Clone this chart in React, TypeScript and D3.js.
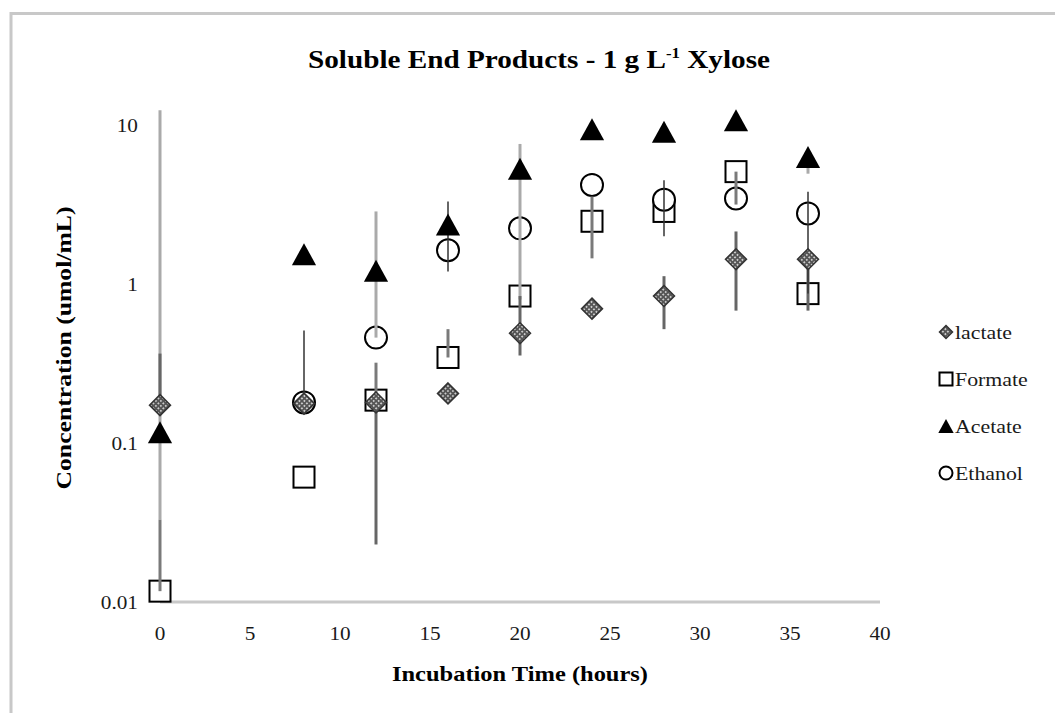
import * as d3 from "d3";

const W = 1055;
const H = 713;

const times = [0, 8, 12, 16, 20, 24, 28, 32, 36];

// concentrations (umol/mL); null = not plotted
const lactate = [0.173, 0.177, 0.18, 0.205, 0.49, 0.7, 0.84, 1.43, 1.43];
const formate = [0.0117, 0.061, 0.186, 0.345, 0.84, 2.48, 2.86, 5.09, 0.87];
const acetate = [0.117, 1.54, 1.21, 2.37, 5.3, 9.4, 9.06, 10.7, 6.3];
const ethanol = [null, 0.18, 0.46, 1.63, 2.24, 4.2, 3.39, 3.45, 2.78];

// error bar ends [low, high]; null = no bar
const lactateErr = [[0.173, 0.365], null, [0.023, 0.18], null, [0.355, 0.84], null, [0.52, 1.12], [0.68, 2.14], [0.68, 1.43]];
const formateErr = [[0.0117, 0.033], null, [0.186, 0.32], [0.345, 0.52], null, [1.45, 3.55], null, [3.16, 5.09], null];
const acetateErr = [[0.033, 12.4], null, [0.46, 2.86], null, [0.8, 7.6], null, null, null, [4.94, 6.3]];
const ethanolErr = [null, [0.18, 0.51], null, [1.2, 3.3], null, null, [2.0, 4.5], null, [0.87, 3.81]];

const yTicks = [0.01, 0.1, 1, 10];
const xTicks = [0, 5, 10, 15, 20, 25, 30, 35, 40];
const legendNames = ["lactate", "Formate", "Acetate", "Ethanol"];

const FONT = "'Liberation Serif', 'Times New Roman', serif";

const x = d3.scaleLinear().domain([0, 40]).range([160, 880]);
const y = d3.scaleLog().domain([0.01, 10]).range([602, 125]);

type Shape = "diamond" | "square" | "triangle" | "circle";

function Marker({ shape, cx, cy, s }: { shape: Shape; cx: number; cy: number; s: number }) {
  if (shape === "diamond") {
    const h = s / 2;
    return (
      <path
        d={`M${cx},${cy - h}L${cx + h},${cy}L${cx},${cy + h}L${cx - h},${cy}Z`}
        fill="url(#dots)"
        stroke="#333"
        strokeWidth={1.5}
      />
    );
  }
  if (shape === "square") {
    return <rect x={cx - s / 2} y={cy - s / 2} width={s} height={s} fill="#fff" stroke="#000" strokeWidth={2} />;
  }
  if (shape === "triangle") {
    const h = s / 2;
    return <path d={`M${cx},${cy - h}L${cx + h * 1.1},${cy + h}L${cx - h * 1.1},${cy + h}Z`} fill="#000" />;
  }
  return <circle cx={cx} cy={cy} r={s / 2} fill="#fff" stroke="#000" strokeWidth={2} />;
}

const series = [
  { name: "lactate", values: lactate, err: lactateErr, shape: "diamond" as Shape, barColor: "#666", barWidth: 3 },
  { name: "Formate", values: formate, err: formateErr, shape: "square" as Shape, barColor: "#7a7a7a", barWidth: 3 },
  { name: "Acetate", values: acetate, err: acetateErr, shape: "triangle" as Shape, barColor: "#aaa", barWidth: 3 },
  { name: "Ethanol", values: ethanol, err: ethanolErr, shape: "circle" as Shape, barColor: "#333", barWidth: 1.5 },
];

// light bars first so darker ones sit on top
const barOrder = ["Acetate", "Formate", "lactate", "Ethanol"];

const markerSize: Record<Shape, number> = { diamond: 21, square: 21, triangle: 22, circle: 22 };

export default function App() {
  const points = (shapes: Shape[]) =>
    series
      .filter((s) => shapes.includes(s.shape))
      .map((s) =>
        s.values.map((v, i) =>
          v == null ? null : (
            <Marker key={s.name + i} shape={s.shape} cx={x(times[i])} cy={y(v)} s={markerSize[s.shape]} />
          )
        )
      );

  const bars = barOrder.map((n) => series.find((s) => s.name === n)!);

  return (
    <svg width={W} height={H} style={{ position: "absolute", left: 0, top: 0, background: "#fff" }} fontFamily={FONT}>
      <defs>
        <pattern id="dots" width={3.5} height={3.5} patternUnits="userSpaceOnUse" patternTransform="rotate(45)">
          <rect width={3.5} height={3.5} fill="#555" />
          <circle cx={1.75} cy={1.75} r={0.8} fill="#fff" />
        </pattern>
      </defs>
      <rect width={W} height={H} fill="#fff" />
      {/* frame */}
      <line x1={10} y1={13.5} x2={W} y2={13.5} stroke="#c8c8c8" strokeWidth={3} />
      <line x1={11} y1={12} x2={11} y2={H} stroke="#c8c8c8" strokeWidth={3} />

      <text x={539} y={68} textAnchor="middle" fontSize={26} fontWeight="bold" textLength={462} lengthAdjust="spacingAndGlyphs">
        Soluble End Products - 1 g L
        <tspan fontSize={15} dy={-10}>-1</tspan>
        <tspan dy={10}> Xylose</tspan>
      </text>

      {/* x axis */}
      <line x1={x(0)} x2={x(40)} y1={y(0.01)} y2={y(0.01)} stroke="#c8c8c8" strokeWidth={3} />
      {xTicks.map((t) => (
        <text
          key={t}
          transform={`translate(${x(t)},${640}) scale(1.15,1)`}
          textAnchor="middle"
          fontSize={18.5}
          fill="#1a1a1a"
        >
          {t}
        </text>
      ))}
      {yTicks.map((t) => (
        <text
          key={t}
          transform={`translate(138,${y(t) + 6.5}) scale(1.15,1)`}
          textAnchor="end"
          fontSize={18.5}
          fill="#1a1a1a"
        >
          {t}
        </text>
      ))}

      <text x={520} y={681} textAnchor="middle" fontSize={22} fontWeight="bold" textLength={256} lengthAdjust="spacingAndGlyphs">
        Incubation Time (hours)
      </text>
      <text
        transform={`translate(71,348) rotate(-90)`}
        textAnchor="middle"
        fontSize={22}
        fontWeight="bold"
        textLength={283}
        lengthAdjust="spacingAndGlyphs"
      >
        Concentration (umol/mL)
      </text>

      {/* open markers under the error bars */}
      {points(["square", "circle"])}
      {bars.map((s) =>
        s.err.map((e, i) =>
          e == null ? null : (
            <line
              key={s.name + "e" + i}
              x1={x(times[i])}
              x2={x(times[i])}
              y1={y(e[0])}
              y2={y(e[1])}
              stroke={s.barColor}
              strokeWidth={s.barWidth}
            />
          )
        )
      )}
      {points(["diamond", "triangle"])}

      {/* legend */}
      {series.map((s, i) => {
        const ly = 332 + i * 47;
        return (
          <g key={s.name}>
            <Marker shape={s.shape} cx={946} cy={ly} s={s.shape === "triangle" ? 14 : 13} />
            <text
              transform={`translate(955,${ly + 6.5}) scale(1.15,1)`}
              fontSize={19}
              fill="#1a1a1a"
            >
              {legendNames[i]}
            </text>
          </g>
        );
      })}
    </svg>
  );
}
